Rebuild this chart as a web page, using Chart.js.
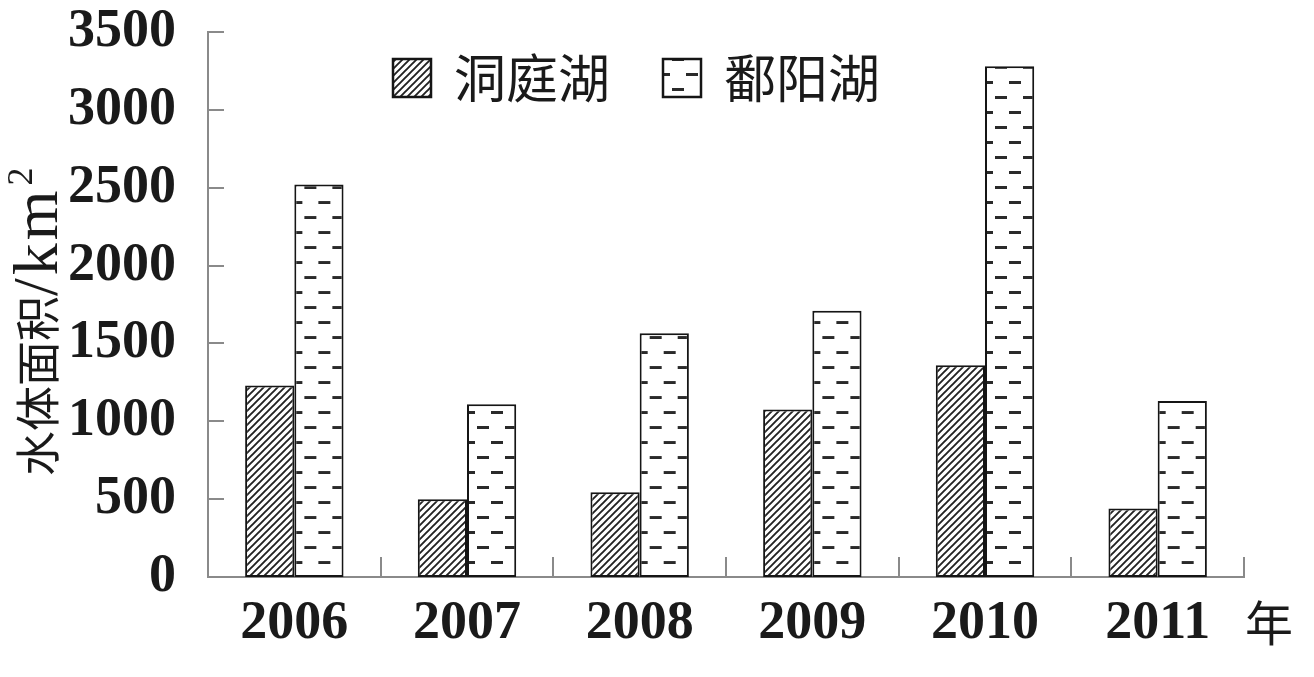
<!DOCTYPE html>
<html>
<head>
<meta charset="utf-8">
<script src="https://cdn.jsdelivr.net/npm/chart.js@4.4.0/dist/chart.umd.min.js"></script>
<style>
  body { margin: 0; background: #fff; }
  #wrap { width: 1314px; height: 677px; }
</style>
</head>
<body>
<div id="wrap"><canvas id="lakeChart" width="1314" height="677"></canvas></div>
<script>
const years = ['2006', '2007', '2008', '2009', '2010', '2011'];
const dongting = [1230, 500, 545, 1075, 1360, 440];
const poyang = [2520, 1110, 1565, 1710, 3280, 1130];
const seriesNames = ['洞庭湖', '鄱阳湖'];
const yMax = 3500;
const yStep = 500;

const LATIN = '"Liberation Serif", "Times New Roman", serif';
const CJK = '"Noto Sans CJK SC", sans-serif';
const INK = '#1a1a1a';
const AXIS = '#8a8a8a';

// hatch tile for 洞庭湖 ("/" lines)
const hatchTile = (() => {
    const c = document.createElement('canvas');
    c.width = 7; c.height = 7;
    const g = c.getContext('2d');
    g.fillStyle = '#fff';
    g.fillRect(0, 0, 7, 7);
    g.strokeStyle = '#222';
    g.lineWidth = 1.9;
    g.beginPath();
    g.moveTo(-2, 9); g.lineTo(9, -2);
    g.moveTo(-2, 2); g.lineTo(2, -2);
    g.moveTo(5, 9); g.lineTo(9, 5);
    g.stroke();
    return c;
})();

// staggered dash tile for 鄱阳湖
const dashTile = (() => {
    const c = document.createElement('canvas');
    c.width = 28; c.height = 30;
    const g = c.getContext('2d');
    g.fillStyle = '#fff';
    g.fillRect(0, 0, 28, 30);
    g.fillStyle = '#2a2a2a';
    g.fillRect(10, 6, 12, 3);
    g.fillRect(24, 21, 4, 3);
    g.fillRect(0, 21, 8, 3);
    return c;
})();

const canvas = document.getElementById('lakeChart');
const ctx = canvas.getContext('2d');
const hatch = ctx.createPattern(hatchTile, 'repeat');

const dashFor = (x, y) => {
    const p = ctx.createPattern(dashTile, 'repeat');
    p.setTransform(new DOMMatrix([1, 0, 0, 1, x, y]));
    return p;
};

const poyangFill = (c) => {
    const xs = c.chart.scales.x;
    if (c.type !== 'data' || !xs) return dashFor(0, 0);
    return dashFor(xs.getPixelForValue(c.dataIndex), 0);
};

const insideTicks = {
    id: 'insideTicks',
    afterDraw(chart) {
        const { ctx, chartArea, scales: { x, y } } = chart;
        const step = x.getPixelForValue(1) - x.getPixelForValue(0);
        ctx.save();
        ctx.strokeStyle = AXIS;
        ctx.lineWidth = 2;
        ctx.beginPath();
        y.ticks.forEach(t => {
            if (t.value === 0) return;
            const py = Math.round(y.getPixelForValue(t.value));
            ctx.moveTo(chartArea.left, py);
            ctx.lineTo(chartArea.left + 16, py);
        });
        years.forEach((_, i) => {
            const px = Math.round(x.getPixelForValue(i) + step / 2);
            ctx.moveTo(px, chartArea.bottom);
            ctx.lineTo(px, chartArea.bottom - 20);
        });
        ctx.stroke();

        ctx.fillStyle = INK;
        ctx.font = '48px ' + CJK;
        ctx.textAlign = 'center';
        ctx.textBaseline = 'middle';
        ctx.fillText('年', chartArea.right + 25, chartArea.bottom + 46);
        ctx.restore();
    }
};

// y title: CJK part and the unit drawn with their own fonts
const yTitle = {
    id: 'yTitle',
    afterDraw(chart) {
        const { ctx } = chart;
        ctx.save();
        ctx.translate(38, 476);
        ctx.rotate(-Math.PI / 2);
        ctx.fillStyle = INK;
        ctx.textBaseline = 'middle';
        ctx.textAlign = 'left';
        ctx.font = '45px ' + CJK;
        ctx.fillText('水体面积', 0, 0);
        let cx = ctx.measureText('水体面积').width;
        ctx.font = '64px ' + LATIN;
        ctx.letterSpacing = '3px';
        ctx.fillText('/km', cx, 2);
        cx += ctx.measureText('/km').width;
        ctx.font = '36px ' + LATIN;
        ctx.fillText('2', cx + 2, -15);
        ctx.restore();
    }
};

const lakeLegend = {
    id: 'lakeLegend',
    afterDraw(chart) {
        const { ctx } = chart;
        const items = [
            { x: 392, fill: hatch },
            { x: 662, fill: dashFor(662, 52) }
        ];
        ctx.save();
        items.forEach((it, i) => {
            ctx.fillStyle = it.fill;
            ctx.fillRect(it.x, 58, 40, 40);
            ctx.strokeStyle = '#151515';
            ctx.lineWidth = 2.5;
            ctx.strokeRect(it.x + 1, 59, 38, 38);
            ctx.fillStyle = INK;
            ctx.font = '52px ' + CJK;
            ctx.textAlign = 'left';
            ctx.textBaseline = 'middle';
            ctx.fillText(seriesNames[i], it.x + 62, 78);
        });
        ctx.restore();
    }
};

new Chart(ctx, {
    type: 'bar',
    data: {
        labels: years,
        datasets: [
            {
                label: seriesNames[0],
                data: dongting,
                backgroundColor: hatch,
                borderColor: '#151515',
                borderWidth: 2,
                borderSkipped: false,
                categoryPercentage: 0.57,
                barPercentage: 1
            },
            {
                label: seriesNames[1],
                data: poyang,
                backgroundColor: poyangFill,
                borderColor: '#151515',
                borderWidth: 2,
                borderSkipped: false,
                categoryPercentage: 0.57,
                barPercentage: 1
            }
        ]
    },
    options: {
        responsive: false,
        animation: false,
        layout: { padding: { top: 32, right: 70, left: 0, bottom: 0 } },
        plugins: {
            legend: { display: false },
            tooltip: { enabled: false }
        },
        scales: {
            x: {
                grid: { display: false, drawTicks: false },
                border: { display: true, color: AXIS, width: 2 },
                ticks: { font: { family: LATIN, size: 54, weight: 'bold' }, color: INK, padding: 15, maxRotation: 0 },
                afterFit: (s) => { s.height = 100; }
            },
            y: {
                min: 0,
                max: yMax,
                grid: { display: false, drawTicks: false },
                border: { display: true, color: AXIS, width: 2 },
                ticks: {
                    stepSize: yStep,
                    font: { family: LATIN, size: 54, weight: 'bold' },
                    color: INK,
                    padding: 32,
                    callback: (v) => String(v)
                },
                afterFit: (s) => {
                    s.width = 208;
                    s.paddingTop = 0;
                    s.paddingBottom = 0;
                }
            }
        }
    },
    plugins: [insideTicks, yTitle, lakeLegend]
});
</script>
</body>
</html>
